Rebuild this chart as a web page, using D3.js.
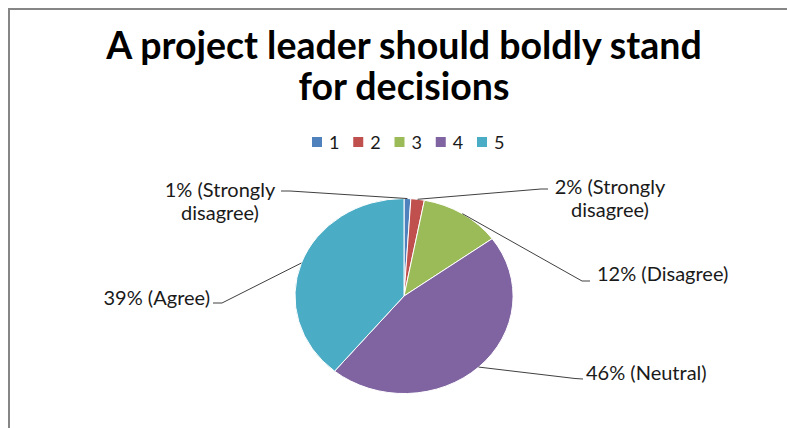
<!DOCTYPE html>
<html>
<head>
<meta charset="utf-8">
<script src="https://cdn.jsdelivr.net/npm/d3@7"></script>
<style>
  html, body { margin: 0; padding: 0; background: #fff; }
  svg { display: block; }
</style>
</head>
<body>
<svg id="chart" width="787" height="428"></svg>
<script>
// ---- data ----
const categories = ["1", "2", "3", "4", "5"];
const values = [1, 2, 12, 46, 39];
const labelLines = [
  ["1% (Strongly", "disagree)"],
  ["2% (Strongly", "disagree)"],
  ["12% (Disagree)"],
  ["46% (Neutral)"],
  ["39% (Agree)"]
];
const titleLines = ["A project leader should boldly stand", "for decisions"];
const colors = ["#4F81BD", "#C0504D", "#9BBB59", "#8064A2", "#4BACC6"];

// ---- layout (positions, not data) ----
const W = 787, H = 428;
const cx = 404, cy = 296, rx = 109, ry = 97.5;
// leader line elbow / end points and text anchors for each slice label
const labelLayout = [
  { elbow: [290, 191], end: [281, 191], tx: 220, ty: 197, anchor: "middle" },
  { elbow: [541, 189], end: [548, 189], tx: 610, ty: 194, anchor: "middle" },
  { elbow: [582, 281], end: [590, 281], tx: 597, ty: 281, anchor: "start" },
  { elbow: [575, 378.5], end: [583, 379], tx: 586, ty: 380, anchor: "start" },
  { elbow: [222, 303], end: [213, 303], tx: 210, ty: 305, anchor: "end" }
];

const svg = d3.select("#chart");
const FONT = "Lato, 'Open Sans', sans-serif";

// chart area border
svg.append("path")
  .attr("d", `M9,${H + 5} L9,9 L${W + 5},9`)
  .attr("fill", "none")
  .attr("stroke", "#868686")
  .attr("stroke-width", 2);

// title
svg.append("g").selectAll("text")
  .data(titleLines)
  .join("text")
  .attr("x", 404)
  .attr("y", (d, i) => 59 + i * 41)
  .attr("text-anchor", "middle")
  .attr("font-family", FONT)
  .attr("font-weight", "bold")
  .attr("font-size", 37.5)
  .attr("fill", "#000")
  .text(d => d);

// legend
const legendX = d3.scalePoint().domain(categories).range([312, 477]);
const legend = svg.append("g").selectAll("g")
  .data(categories)
  .join("g")
  .attr("transform", d => `translate(${legendX(d)},137)`);
legend.append("rect")
  .attr("width", 10).attr("height", 10)
  .attr("fill", (d, i) => colors[i]);
legend.append("text")
  .attr("x", 17).attr("y", 11.5)
  .attr("font-family", FONT)
  .attr("font-size", 18)
  .attr("fill", "#1a1a1a")
  .text(d => d);

// pie
const pie = d3.pie().sort(null).value(d => d)(values);
const arc = d3.arc().innerRadius(0).outerRadius(1);
svg.append("g")
  .attr("transform", `translate(${cx},${cy}) scale(${rx},${ry})`)
  .selectAll("path")
  .data(pie)
  .join("path")
  .attr("d", arc)
  .attr("fill", (d, i) => colors[i])
  .attr("stroke", "#fff")
  .attr("stroke-width", 1)
  .attr("vector-effect", "non-scaling-stroke");

// leader lines
const edgePoint = d => {
  const a = (d.startAngle + d.endAngle) / 2;
  return [cx + rx * Math.sin(a), cy - ry * Math.cos(a)];
};
svg.append("g").selectAll("polyline")
  .data(pie)
  .join("polyline")
  .attr("points", (d, i) => [edgePoint(d), labelLayout[i].elbow, labelLayout[i].end].map(p => p.join(",")).join(" "))
  .attr("fill", "none")
  .attr("stroke", "#404040")
  .attr("stroke-width", 1);

// labels
const labels = svg.append("g").selectAll("text")
  .data(pie)
  .join("text")
  .attr("font-family", FONT)
  .attr("font-size", 20)
  .attr("fill", "#1a1a1a")
  .attr("text-anchor", (d, i) => labelLayout[i].anchor);
labels.each(function (d, i) {
  const L = labelLayout[i];
  d3.select(this).selectAll("tspan")
    .data(labelLines[i])
    .join("tspan")
    .attr("x", L.tx)
    .attr("y", (t, j) => L.ty + j * 23)
    .text(t => t);
});
</script>
</body>
</html>
